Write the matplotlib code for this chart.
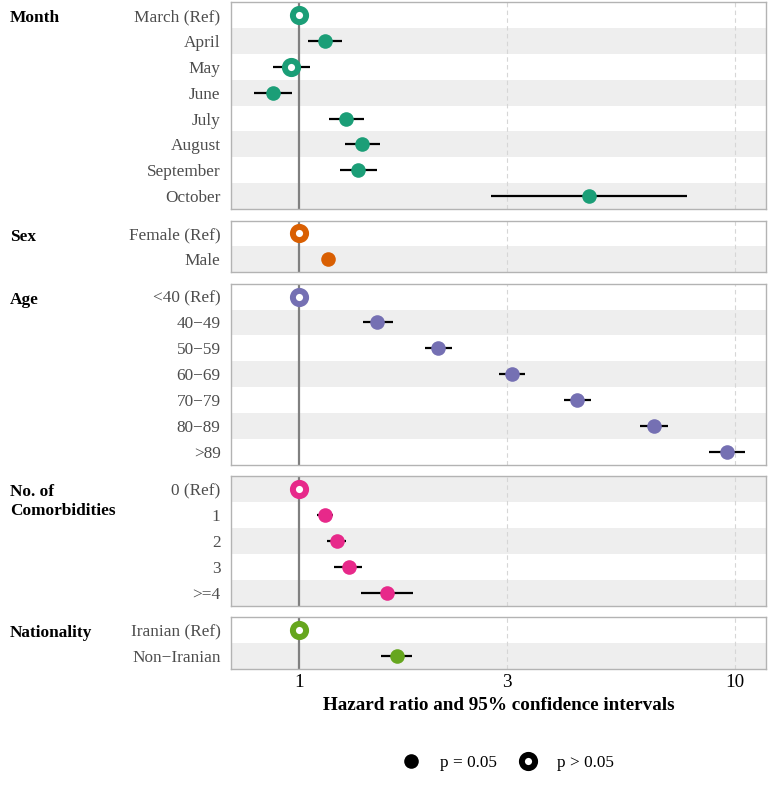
import matplotlib
matplotlib.use("Agg")
import matplotlib.pyplot as plt
from matplotlib.lines import Line2D
from matplotlib.transforms import blended_transform_factory

plt.rcParams['font.family'] = ['Liberation Serif', 'DejaVu Serif']

# groups -> (labels, hazard ratio, lower, upper, significant)
GROUPS = ['Month', 'Sex', 'Age', 'No. of\nComorbidities', 'Nationality']
COLORS = ['#1B9E77', '#D95F02', '#7570B3', '#E7298A', '#66A61E']

month_labels = ['March (Ref)', 'April', 'May', 'June', 'July', 'August', 'September', 'October']
month_hr = [1.0, 1.147, 0.958, 0.872, 1.282, 1.394, 1.365, 4.62]
month_lo = [1.0, 1.049, 0.872, 0.789, 1.172, 1.275, 1.242, 2.76]
month_hi = [1.0, 1.254, 1.060, 0.964, 1.410, 1.534, 1.510, 7.76]
month_sig = [False, True, False, True, True, True, True, True]

sex_labels = ['Female (Ref)', 'Male']
sex_hr = [1.0, 1.166]
sex_lo = [1.0, 1.150]
sex_hi = [1.0, 1.182]
sex_sig = [False, True]

age_labels = ['<40 (Ref)', '40\u221249', '50\u221259', '60\u221269', '70\u221279', '80\u221289', '>89']
age_hr = [1.0, 1.51, 2.08, 3.08, 4.34, 6.52, 9.59]
age_lo = [1.0, 1.40, 1.95, 2.88, 4.05, 6.05, 8.72]
age_hi = [1.0, 1.64, 2.24, 3.31, 4.67, 7.02, 10.55]
age_sig = [False, True, True, True, True, True, True]

com_labels = ['0 (Ref)', '1', '2', '3', '>=4']
com_hr = [1.0, 1.147, 1.222, 1.302, 1.59]
com_lo = [1.0, 1.100, 1.159, 1.203, 1.388]
com_hi = [1.0, 1.197, 1.282, 1.395, 1.826]
com_sig = [False, True, True, True, True]

nat_labels = ['Iranian (Ref)', 'Non\u2212Iranian']
nat_hr = [1.0, 1.677]
nat_lo = [1.0, 1.542]
nat_hi = [1.0, 1.816]
nat_sig = [False, True]

data = [
    (month_labels, month_hr, month_lo, month_hi, month_sig),
    (sex_labels, sex_hr, sex_lo, sex_hi, sex_sig),
    (age_labels, age_hr, age_lo, age_hi, age_sig),
    (com_labels, com_hr, com_lo, com_hi, com_sig),
    (nat_labels, nat_hr, nat_lo, nat_hi, nat_sig),
]

W, H = 768, 791
fig = plt.figure(figsize=(W / 100, H / 100), dpi=100)

row_h = 25.9
gap = 11.3
top = 2.0
left_px, right_px = 231, 766
offset = 0  # global row index for striping
FS = 12.4

for gi, (labels, hr, lo, hi, sig) in enumerate(data):
    n = len(labels)
    bottom = top + row_h * n
    ax = fig.add_axes([left_px / W, 1 - bottom / H, (right_px - left_px) / W, row_h * n / H])
    col = COLORS[gi]
    for i in range(n):
        if (offset + i) % 2 == 1:
            ax.axhspan(i - 0.5, i + 0.5, color='#eeeeee', lw=0, zorder=0)
    for xv in [3, 10]:
        ax.axvline(xv, color='#d6d6d6', lw=0.8, ls=(0, (4, 3)), zorder=1)
    ax.axvline(1, color='#808080', lw=1.6, zorder=2)
    for i in range(n):
        if lo[i] != hi[i]:
            ax.plot([lo[i], hi[i]], [i, i], color='black', lw=1.6, zorder=3,
                    solid_capstyle='butt')
        if sig[i]:
            ax.plot(hr[i], i, 'o', ms=10.5, mfc=col, mec=col, mew=0, zorder=4)
        else:
            ax.plot(hr[i], i, 'o', ms=9.5, mfc='white', mec=col, mew=4.3, zorder=4)
    ax.set_xscale('log')
    ax.set_xlim(0.698, 11.8)
    ax.set_ylim(n - 0.5, -0.5)
    ax.set_yticks(range(n))
    ax.set_yticklabels(labels, fontsize=FS, color='#4d4d4d')
    ax.tick_params(axis='y', length=0, pad=7.5)
    ax.set_xticks([1, 3, 10])
    ax.minorticks_off()
    ax.tick_params(axis='x', length=0)
    if gi < len(data) - 1:
        ax.set_xticklabels([])
    else:
        ax.set_xticklabels(['1', '3', '10'], fontsize=13.8, color='black')
        ax.tick_params(axis='x', pad=4)
        ax.set_xlabel('Hazard ratio and 95% confidence intervals',
                      fontsize=13.8, fontweight='bold', labelpad=4)
    for s in ax.spines.values():
        s.set_color('#b3b3b3')
        s.set_linewidth(1.0)
    tr = blended_transform_factory(fig.transFigure, ax.transData)
    # group title, first line baseline a little below the first row centre
    first, *rest = GROUPS[gi].split('\n')
    ax.text(10 / W, 0.28, first, transform=tr, ha='left', va='baseline',
            fontsize=FS, fontweight='bold')
    for k, line in enumerate(rest, start=1):
        ax.text(10 / W, 0.28 + 0.7 * k, line, transform=tr, ha='left',
                va='baseline', fontsize=FS, fontweight='bold')
    offset += n
    top = bottom + gap

handles = [
    Line2D([], [], ls='none', marker='o', ms=10.5, mfc='black', mec='black', mew=0),
    Line2D([], [], ls='none', marker='o', ms=9.5, mfc='white', mec='black', mew=4.3),
]
fig.legend(handles, ['p = 0.05', 'p > 0.05'], loc='center',
           bbox_to_anchor=(504 / W, 1 - 763 / H), ncol=2, frameon=False,
           fontsize=FS, handletextpad=0.7, columnspacing=0.8)

fig.savefig('out.png', dpi=100)
